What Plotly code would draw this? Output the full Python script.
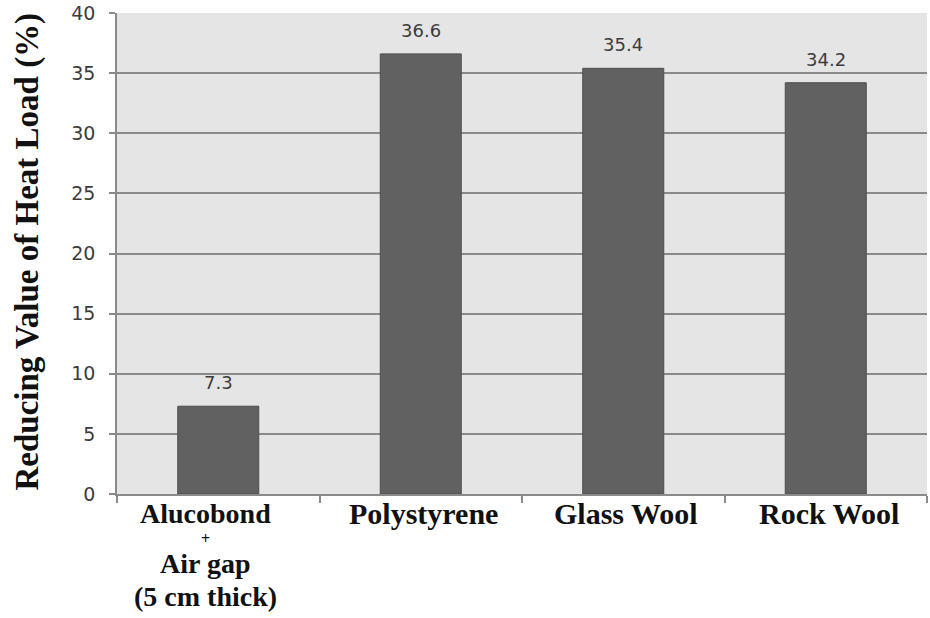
import plotly.graph_objects as go

# Reduction of heat load by insulation type
categories = ["Alucobond + Air gap (5 cm thick)", "Polystyrene", "Glass Wool", "Rock Wool"]
values = [7.3, 36.6, 35.4, 34.2]
label_lines = [
    ["Alucobond", "+", "Air gap", "(5 cm thick)"],
    ["Polystyrene"],
    ["Glass Wool"],
    ["Rock Wool"],
]
y_ticks = [0, 5, 10, 15, 20, 25, 30, 35, 40]
y_title = "Reducing Value of Heat Load (%)"

SERIF = "Liberation Serif, Times New Roman, serif"
SANS = "DejaVu Sans, Verdana, sans-serif"
GRID = "#8a8a8a"

fig = go.Figure(
    go.Bar(
        x=categories,
        y=values,
        marker=dict(color="#616161", line=dict(color="#4d4d4d", width=1)),
        width=0.4,
        hoverinfo="x+y",
    )
)

annotations = []

# value labels above each bar
for cat, val in zip(categories, values):
    annotations.append(dict(
        x=cat, y=val, xref="x", yref="y", text=f"{val:.1f}",
        showarrow=False, yanchor="bottom", yshift=11,
        font=dict(family=SANS, size=18, color="#3c3c3c"),
    ))

# category labels stacked beneath the axis; multi-line labels are packed tighter
line_centers = [513, 538, 563, 596]   # pixel rows of successive label lines
for cat, lines in zip(categories, label_lines):
    stacked = len(lines) > 1
    shift_x = -13 if stacked else 3
    for j, line in enumerate(lines):
        if line == "+":
            size = 16
        else:
            size = 28 if stacked else 30
        annotations.append(dict(
            x=cat, y=0, xref="x", yref="paper", text=f"<b>{line}</b>",
            showarrow=False, yanchor="middle", xanchor="center",
            yshift=494 - line_centers[j], xshift=shift_x,
            font=dict(family=SERIF, size=size, color="#111111"),
        ))

# vertical axis title
annotations.append(dict(
    x=0, y=0.5, xref="paper", yref="paper", text=f"<b>{y_title}</b>",
    showarrow=False, textangle=-90, xanchor="center", yanchor="middle",
    xshift=-90, yshift=2,
    font=dict(family=SERIF, size=33, color="#111111"),
))

fig.update_layout(
    width=930, height=618,
    margin=dict(l=117, r=3, t=13, b=124, autoexpand=False),
    paper_bgcolor="white",
    plot_bgcolor="#e5e5e5",
    showlegend=False,
    annotations=annotations,
    xaxis=dict(
        type="category",
        showticklabels=False,
        ticks="outside", tickson="boundaries", ticklen=7, tickcolor=GRID, tickwidth=1.5,
        showline=True, linecolor=GRID, linewidth=1.5,
        showgrid=False, zeroline=False,
        range=[-0.5, 3.5],
    ),
    yaxis=dict(
        range=[0, 40], tickvals=y_ticks,
        ticks="outside", ticklen=6, tickcolor=GRID, tickwidth=1.5,
        ticklabelstandoff=10,
        showline=True, linecolor=GRID, linewidth=1.5,
        showgrid=True, gridcolor=GRID, gridwidth=1.5,
        zeroline=False,
        tickfont=dict(family=SANS, size=19, color="#3c3c3c"),
    ),
)

fig.write_html("out.html")
